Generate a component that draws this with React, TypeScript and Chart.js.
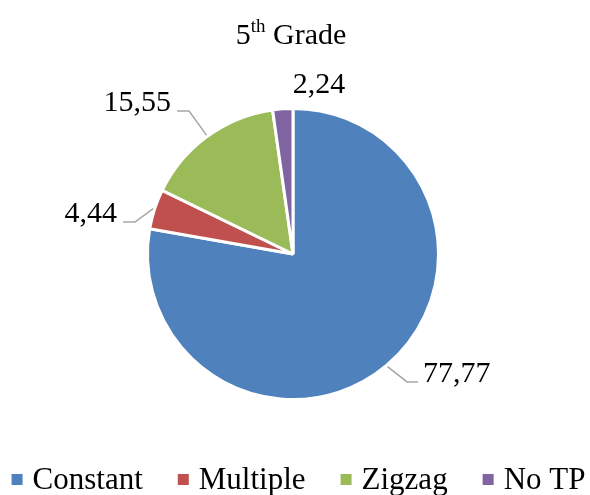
import React, { useEffect, useRef } from "react";
import { Chart, registerables } from "chart.js";

Chart.register(...registerables);

const categories = ["Constant", "Multiple", "Zigzag", "No TP"];
const values = [77.77, 4.44, 15.55, 2.24];
const valueLabels = ["77,77", "4,44", "15,55", "2,24"];
const colors = ["#4F81BD", "#C0504D", "#9BBB59", "#8064A2"];
const titleMain = "5";
const titleSup = "th";
const titleRest = " Grade";

const FONT = "'Liberation Serif', 'Times New Roman', serif";

// label placement relative to the slice's outer edge point (text anchor), and alignment
const labelPlacement = [
  { dx: 36.5, dy: 16.5, align: "left", leader: true },
  { dx: -37.6, dy: 13, align: "right", leader: true },
  { dx: -36.3, dy: -25.4, align: "right", leader: true },
  { dx: 36.2, dy: -15.8, align: "center", leader: false },
];

const decorPlugin = {
  id: "decor",
  afterDraw(chart: any) {
    const ctx = chart.ctx as CanvasRenderingContext2D;
    const W = chart.width;
    ctx.save();
    // Title
    ctx.fillStyle = "#000";
    ctx.textBaseline = "alphabetic";
    const mainFont = `30px ${FONT}`;
    const supFont = `19px ${FONT}`;
    ctx.font = mainFont;
    const w1 = ctx.measureText(titleMain).width;
    const w3 = ctx.measureText(titleRest).width;
    ctx.font = supFont;
    const w2 = ctx.measureText(titleSup).width;
    const total = w1 + w2 + w3;
    let x = W / 2 - 4 - total / 2;
    const by = 44;
    ctx.textAlign = "left";
    ctx.font = mainFont;
    ctx.fillText(titleMain, x, by);
    x += w1;
    ctx.font = supFont;
    ctx.fillText(titleSup, x, by - 12);
    x += w2;
    ctx.font = mainFont;
    ctx.fillText(titleRest, x, by);

    // Data labels with leader lines
    const meta = chart.getDatasetMeta(0);
    ctx.font = `30px ${FONT}`;
    meta.data.forEach((arc: any, i: number) => {
      const p = arc.getProps(["x", "y", "startAngle", "endAngle", "outerRadius"], true);
      const mid = (p.startAngle + p.endAngle) / 2;
      const r = p.outerRadius;
      const ex = p.x + Math.cos(mid) * r;
      const ey = p.y + Math.sin(mid) * r;
      const pl = labelPlacement[i];
      const tx = ex + pl.dx;
      const ty = ey + pl.dy;
      if (pl.leader) {
        ctx.strokeStyle = "#A6A6A6";
        ctx.lineWidth = 1.5;
        ctx.beginPath();
        const sx = ex + Math.cos(mid) * 1.5;
        const sy = ey + Math.sin(mid) * 1.5;
        if (pl.align === "left") {
          ctx.moveTo(sx, sy);
          ctx.lineTo(tx - 16, ty);
          ctx.lineTo(tx - 5, ty);
        } else {
          ctx.moveTo(sx, sy);
          ctx.lineTo(tx + 18, ty);
          ctx.lineTo(tx + 6, ty);
        }
        ctx.stroke();
      }
      ctx.fillStyle = "#000";
      ctx.textAlign = pl.align as CanvasTextAlign;
      ctx.fillText(valueLabels[i], tx, ty);
    });

    // Legend
    const legFont = `31px ${FONT}`;
    ctx.font = legFont;
    const box = 11;
    const gap = 10;
    const spacing = 35;
    const widths = categories.map((c) => ctx.measureText(c).width);
    const totalW =
      widths.reduce((a, b) => a + b, 0) + categories.length * (box + gap) + (categories.length - 1) * spacing;
    let lx = W / 2 + 3.5 - totalW / 2;
    const legBase = 489;
    ctx.textAlign = "left";
    categories.forEach((c, i) => {
      ctx.fillStyle = colors[i];
      ctx.fillRect(lx, legBase - 15, box, box);
      lx += box + gap;
      ctx.fillStyle = "#000";
      ctx.fillText(c, lx, legBase);
      lx += widths[i] + spacing;
    });
    ctx.restore();
  },
};

export default function App() {
  const ref = useRef<HTMLCanvasElement | null>(null);
  useEffect(() => {
    if (!ref.current) return;
    const chart = new Chart(ref.current, {
      type: "pie",
      data: {
        labels: categories,
        datasets: [
          {
            data: values,
            backgroundColor: colors,
            borderColor: "#FFFFFF",
            borderWidth: 3,
          },
        ],
      },
      options: {
        responsive: false,
        animation: false,
        layout: { padding: { top: 107, bottom: 94, left: 146, right: 150 } },
        plugins: {
          legend: { display: false },
          title: { display: false },
          tooltip: { enabled: false },
        },
      },
      plugins: [decorPlugin],
    });
    return () => chart.destroy();
  }, []);
  return (
    <div style={{ position: "absolute", left: 0, top: 0, width: 590, height: 495, background: "#fff" }}>
      <canvas ref={ref} width={590} height={495} />
    </div>
  );
}
